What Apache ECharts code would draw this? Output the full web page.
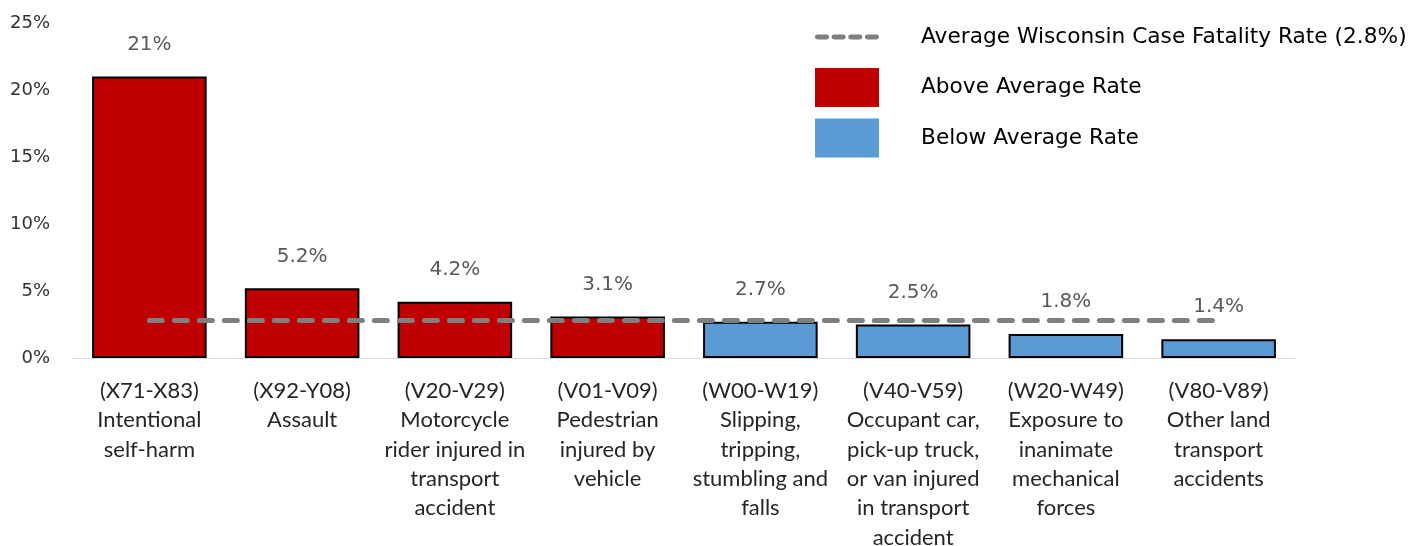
<!DOCTYPE html>
<html><head><meta charset="utf-8">
<script src="https://cdn.jsdelivr.net/npm/echarts@6/dist/echarts.min.js"></script>
<style>html,body{margin:0;padding:0;background:#fff}#c{width:1424px;height:546px}</style>
</head><body><div id="c"></div>
<script>
const categories = [
  "(X71-X83)\nIntentional\nself-harm",
  "(X92-Y08)\nAssault",
  "(V20-V29)\nMotorcycle\nrider injured in\ntransport\naccident",
  "(V01-V09)\nPedestrian\ninjured by\nvehicle",
  "(W00-W19)\nSlipping,\ntripping,\nstumbling and\nfalls",
  "(V40-V59)\nOccupant car,\npick-up truck,\nor van injured\nin transport\naccident",
  "(W20-W49)\nExposure to\ninanimate\nmechanical\nforces",
  "(V80-V89)\nOther land\ntransport\naccidents"
];
const aboveRate = [21, 5.2, 4.2, 3.1, '-', '-', '-', '-'];
const belowRate = ['-', '-', '-', '-', 2.7, 2.5, 1.8, 1.4];
const averageRate = [2.8, 2.8, 2.8, 2.8, 2.8, 2.8, 2.8, 2.8];
const yTicks = [0, 5, 10, 15, 20, 25];

const font = 'DejaVu Sans';
const labelFmt = p => (p.value >= 10 ? p.value.toFixed(0) : p.value.toFixed(1)) + '%';
const barLabel = {show: true, position: 'top', distance: 22, color: '#595959', fontFamily: font, fontSize: 20, formatter: labelFmt};
const dashIcon = 'path://M3 0h11a3 3 0 0 1 0 6h-11a3 3 0 0 1 0-6zM23 0h11a3 3 0 0 1 0 6h-11a3 3 0 0 1 0-6zM43 0h11a3 3 0 0 1 0 6h-11a3 3 0 0 1 0-6zM63 0h11a3 3 0 0 1 0 6h-11a3 3 0 0 1 0-6z';

const chart = echarts.init(document.getElementById('c'));
chart.setOption({
  animation: false,
  grid: {left: 73, right: 129, top: 23, bottom: 188, containLabel: false, outerBoundsMode: 'none'},
  legend: {
    orient: 'vertical', left: 810, top: 12.5,
    itemWidth: 64, itemHeight: 39, itemGap: 11.5,
    textStyle: {fontFamily: font, fontSize: 21.7, lineHeight: 39, color: '#000', padding: [0, 0, 0, 37]},
    data: [
      {name: 'Average Wisconsin Case Fatality Rate (2.8%)', icon: dashIcon, itemStyle: {color: '#7f7f7f', borderWidth: 0}},
      {name: 'Above Average Rate', icon: 'rect', itemStyle: {color: '#C00000', borderWidth: 0}},
      {name: 'Below Average Rate', icon: 'rect', itemStyle: {color: '#5B9BD5', borderWidth: 0}}
    ]
  },
  xAxis: {
    type: 'category', data: categories,
    axisLine: {lineStyle: {color: '#d9d9d9', width: 1}},
    axisTick: {show: false},
    axisLabel: {interval: 0, color: '#262626', fontFamily: 'Lato', fontSize: 22, lineHeight: 29.4, margin: 18}
  },
  yAxis: {
    type: 'value', min: 0, max: 25, interval: 5,
    splitLine: {show: false}, axisLine: {show: false}, axisTick: {show: false},
    axisLabel: {formatter: v => v + '%', color: '#333333', fontFamily: font, fontSize: 18, margin: 23}
  },
  series: [
    {name: 'Above Average Rate', type: 'bar', stack: 'r', data: aboveRate, barWidth: '75%',
     itemStyle: {color: '#C00000', borderColor: '#000', borderWidth: 2}, label: barLabel},
    {name: 'Below Average Rate', type: 'bar', stack: 'r', data: belowRate, barWidth: '75%',
     itemStyle: {color: '#5B9BD5', borderColor: '#000', borderWidth: 2}, label: barLabel},
    {name: 'Average Wisconsin Case Fatality Rate (2.8%)', type: 'line', data: averageRate,
     symbol: 'none', z: 5, color: '#7f7f7f',
     lineStyle: {color: '#7f7f7f', width: 5, type: [13, 12], cap: 'round'}}
  ]
});
</script></body></html>
